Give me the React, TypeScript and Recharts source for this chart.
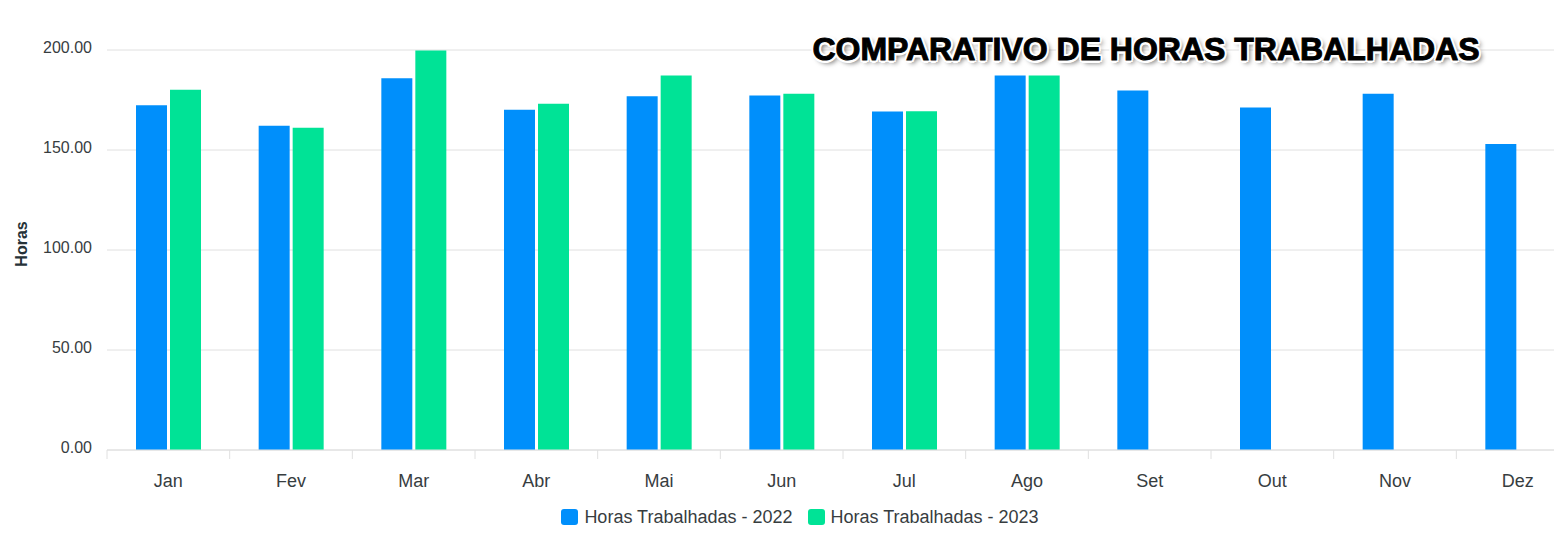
import React from 'react';
import { BarChart, Bar, XAxis, YAxis, CartesianGrid, Legend } from 'recharts';

const categories = ['Jan', 'Fev', 'Mar', 'Abr', 'Mai', 'Jun', 'Jul', 'Ago', 'Set', 'Out', 'Nov', 'Dez'];
const horas2022 = [172.4, 162.1, 185.9, 170.1, 176.9, 177.2, 169.2, 187.2, 179.7, 171.2, 178.1, 153.0];
const horas2023: (number | null)[] = [180.1, 161.1, 199.7, 173.1, 187.2, 178.1, 169.4, 187.2, null, null, null, null];
const yTicks = [0, 50, 100, 150, 200];
const seriesNames = ['Horas Trabalhadas - 2022', 'Horas Trabalhadas - 2023'];
const titleText = 'COMPARATIVO DE HORAS TRABALHADAS';
const yLabel = 'Horas';

const data = categories.map((m, i) => ({ month: m, h2022: horas2022[i], h2023: horas2023[i] }));

const FONT = '"Liberation Sans", Arial, Helvetica, sans-serif';
const TEXT = '#373d3f';
const GRID = '#e0e0e0';

function XTick(props: any) {
  const { x, y, payload } = props;
  const half = payload && typeof payload.offset === 'number' ? payload.offset : 0;
  return (
    <g>
      <line x1={x - half} x2={x - half} y1={y} y2={y + 9} stroke={GRID} strokeWidth={1} />
      <text x={x} y={y + 37} textAnchor="middle" fill={TEXT} fontSize={18} fontFamily={FONT}>
        {payload.value}
      </text>
    </g>
  );
}

function YTick(props: any) {
  const { x, y, payload } = props;
  return (
    <text x={x} y={y + 2.5} textAnchor="end" fill={TEXT} fontSize={16} fontFamily={FONT}>
      {Number(payload.value).toFixed(2)}
    </text>
  );
}

function YLabel(props: any) {
  const { viewBox } = props;
  const cx = 21;
  const cy = viewBox.y + viewBox.height / 2 - 6;
  return (
    <text
      x={cx}
      y={cy}
      transform={`rotate(-90 ${cx} ${cy})`}
      textAnchor="middle"
      dominantBaseline="central"
      fill="#263238"
      fontSize={16}
      fontWeight="bold"
      fontFamily={FONT}
    >
      {yLabel}
    </text>
  );
}

function LegendContent(props: any) {
  const { payload } = props;
  return (
    <div style={{ display: 'flex', justifyContent: 'center', alignItems: 'center', height: 30, fontFamily: FONT }}>
      {(payload || []).map((p: any, i: number) => (
        <div key={i} style={{ display: 'flex', alignItems: 'center', marginRight: i === 0 ? 15 : 0 }}>
          <span
            style={{
              display: 'inline-block',
              width: 17,
              height: 16,
              borderRadius: 3,
              background: p.color,
              marginRight: 6,
            }}
          />
          <span style={{ fontSize: 18, lineHeight: '18px', color: TEXT }}>{p.value}</span>
        </div>
      ))}
    </div>
  );
}

export default function App() {
  return (
    <div
      style={{
        position: 'absolute',
        left: 0,
        top: 0,
        width: 1554,
        height: 535,
        overflow: 'hidden',
        background: '#fff',
        fontFamily: FONT,
      }}
    >
      <BarChart
        width={1600}
        height={535}
        data={data}
        margin={{ top: 50, right: 21, left: 0, bottom: 5 }}
        barGap={3}
        barSize={31}
      >
        <CartesianGrid vertical={false} stroke={GRID} />
        <XAxis
          dataKey="month"
          height={50}
          interval={0}
          tickSize={0}
          tickMargin={0}
          tickLine={false}
          axisLine={{ stroke: GRID }}
          tick={<XTick />}
        />
        <YAxis
          width={107}
          domain={[0, 200]}
          ticks={yTicks}
          axisLine={false}
          tickLine={false}
          tickSize={0}
          tickMargin={15}
          tick={<YTick />}
          label={<YLabel />}
        />
        <Legend content={<LegendContent />} wrapperStyle={{ top: 502, left: 0, width: 1600, height: 30 }} />
        <Bar dataKey="h2022" name={seriesNames[0]} fill="#008FFB" isAnimationActive={false} />
        <Bar dataKey="h2023" name={seriesNames[1]} fill="#00E396" isAnimationActive={false} />
      </BarChart>
      <div
        style={{
          position: 'absolute',
          left: 746,
          top: 33,
          width: 800,
          textAlign: 'center',
          fontSize: 32,
          lineHeight: '32px',
          fontWeight: 'bold',
          letterSpacing: 0,
          color: '#000',
          fontFamily: FONT,
          whiteSpace: 'nowrap',
          WebkitTextStroke: '1px #000',
          textShadow:
            '-2px -2px 0 #fff, 2px -2px 0 #fff, -2px 2px 0 #fff, 2px 2px 0 #fff, 0 2.5px 0 #fff, 2.5px 0 0 #fff, -2.5px 0 0 #fff, 0 -2.5px 0 #fff, 3px 3px 5px rgba(0,0,0,0.65)',
        }}
      >
        {titleText}
      </div>
    </div>
  );
}
